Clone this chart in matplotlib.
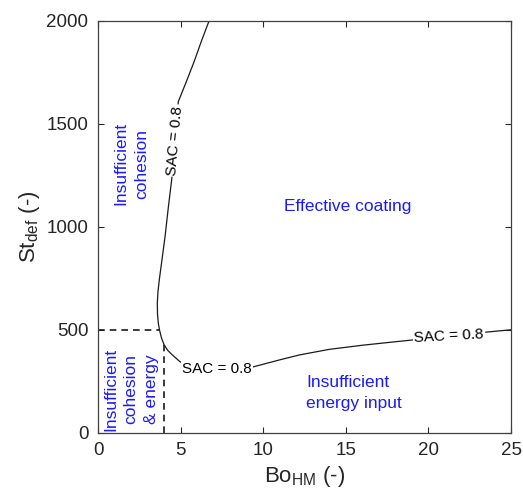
import matplotlib
matplotlib.use("Agg")
from matplotlib import pyplot as plt
import numpy as np

plt.rcParams['font.family'] = ['Liberation Sans', 'DejaVu Sans']
plt.rcParams['mathtext.fontset'] = 'custom'
plt.rcParams['mathtext.rm'] = 'Liberation Sans'

# SAC = 0.8 contour
bo_curve = [6.72, 6.25, 5.83, 5.35, 4.86, 4.66, 4.46, 4.25, 4.06, 3.88, 3.71, 3.63,
            3.59, 3.6, 3.65, 3.72, 3.84, 4.0, 4.22, 4.5, 4.96, 5.6, 6.5, 7.5, 8.5,
            9.4, 11.0, 12.2, 14.0, 16.0, 18.0, 19.1, 21.0, 23.0, 25.0]
st_curve = [2000, 1900, 1805, 1706, 1608, 1419, 1230, 1090, 954, 845, 743, 685,
            630, 578, 532, 500, 461, 427, 400, 378, 345, 325, 313, 310, 313,
            320, 354, 378, 405, 425, 442, 451, 468, 485, 500]

# dashed limits
h_dash_x = [0, 3.72]
h_dash_y = [500, 500]
v_dash_x = [4, 4]
v_dash_y = [0, 440]

# contour labels: (Bo, St, rotation)
sac_labels = [(4.66, 1419, 85), (7.2, 312, 0), (21.25, 470, 3)]

xticks = [0, 5, 10, 15, 20, 25]
yticks = [0, 500, 1000, 1500, 2000]

fig = plt.figure(figsize=(5.23, 4.94), dpi=100)
ax = fig.add_axes([0.1874, 0.124, 0.7897, 0.8336])

ax.plot(bo_curve, st_curve, color='#1a1a1a', lw=0.9, zorder=2)
ax.plot(h_dash_x, h_dash_y, color='#1a1a1a', lw=1.2, ls=(0, (4, 3)))
ax.plot(v_dash_x, v_dash_y, color='#1a1a1a', lw=1.2, ls=(0, (4, 3)))

for x, y, r in sac_labels:
    ax.text(x, y, 'SAC = 0.8', rotation=r, ha='center', va='center', fontsize=11,
            rotation_mode='anchor', zorder=3,
            bbox=dict(facecolor='white', edgecolor='none', pad=1.0))

blue = '#1a1aff'
ax.text(2.03, 1307, 'Insufficient\ncohesion', rotation=90, ha='center', va='center',
        color=blue, fontsize=12.5, multialignment='center', linespacing=1.45)
ax.text(2.0, 212, 'Insufficient\ncohesion\n& energy', rotation=90, ha='center', va='center',
        color=blue, fontsize=12.5, multialignment='center', linespacing=1.45)
ax.text(15.13, 1098, 'Effective coating', ha='center', va='center', color=blue, fontsize=12.5)
ax.text(12.6, 193, 'Insufficient\nenergy input', ha='left', va='center', color=blue,
        fontsize=12.5, linespacing=1.45)

ax.set_xlim(0, 25)
ax.set_ylim(0, 2000)
ax.set_xticks(xticks)
ax.set_yticks(yticks)
ax.tick_params(direction='in', top=True, right=True, length=4, width=0.8,
               labelsize=13.5, colors='#262626', pad=7)
for s in ax.spines.values():
    s.set_color('#404040')
    s.set_linewidth(0.9)

ax.set_xlabel(r'Bo$_{\rm HM}$ (-)', fontsize=16, color='#262626', labelpad=3)
ax.set_ylabel(r'St$_{\rm def}$ (-)', fontsize=16, color='#262626', labelpad=3)

fig.savefig('out.png', dpi=100)
